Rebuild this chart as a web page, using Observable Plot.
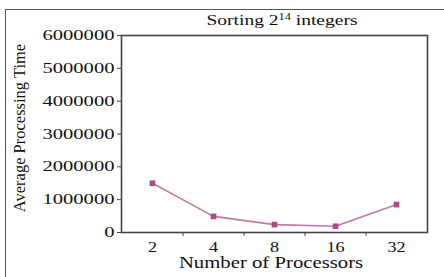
<!DOCTYPE html>
<html>
<head>
<meta charset="utf-8">
<script src="https://cdn.jsdelivr.net/npm/d3@7"></script>
<script src="https://cdn.jsdelivr.net/npm/@observablehq/plot@0.6"></script>
<style>
  html, body { margin: 0; padding: 0; background: #fff; overflow: hidden; }
  #wrap { position: relative; width: 444px; height: 277px; overflow: hidden; }
  #border { position: absolute; left: 5px; top: 9px; width: 500px; height: 400px;
            border-left: 1.5px solid #555; border-top: 1.5px solid #555; }
  #title { position: absolute; left: 0; top: 12px; width: 564px; text-align: center;
           font-family: "Liberation Serif", serif; font-size: 15px; color: #111;
           transform-origin: 282px 0; transform: scaleX(1.3); white-space: nowrap; }
  #title sup { font-size: 9.5px; vertical-align: 5px; line-height: 0; }
  #chart { position: absolute; left: 0; top: 0; }
</style>
</head>
<body>
<div id="wrap">
  <div id="border"></div>
  <div id="chart"></div>
  <div id="title">Sorting 2<sup>14</sup> integers</div>
</div>
<script>
const processors = ["2", "4", "8", "16", "32"];
const avgTime = [1500000, 490000, 240000, 190000, 850000];
const yTicks = [0, 1000000, 2000000, 3000000, 4000000, 5000000, 6000000];
const xTitle = "Number of Processors";
const yTitle = "Average Processing Time";

const data = processors.map((p, i) => ({p, t: avgTime[i]}));
const serif = "Liberation Serif, Times New Roman, serif";

const chart = Plot.plot({
  width: 444, height: 277,
  marginLeft: 121, marginRight: 17, marginTop: 35, marginBottom: 45,
  style: {fontFamily: serif, fontSize: "14.5px", color: "#111", background: "transparent", overflow: "visible"},
  x: {type: "point", domain: processors, padding: 0.5},
  y: {domain: [0, 6000000]},
  marks: [
    Plot.axisY({ticks: yTicks, tickSize: 4, tickPadding: 3, tickFormat: d => String(d), label: null, stroke: "#444", fontSize: 14.5}),
    Plot.axisX({ticks: processors, tickSize: 0, tickPadding: 9.5, label: null, fontSize: 14.5}),
    Plot.axisX({ticks: processors.slice(0, -1), tickSize: 4, dx: 30.6, tickFormat: () => "", label: null, stroke: "#444"}),
    Plot.frame({stroke: "#444", strokeWidth: 1.6}),
    Plot.line(data, {x: "p", y: "t", stroke: "#c27ba3", strokeWidth: 1.6}),
    Plot.dot(data, {x: "p", y: "t", symbol: "square", r: 3.2, fill: "#a94c83", stroke: "none"}),
    Plot.text([yTitle], {text: d => d, frameAnchor: "left", textAnchor: "middle", lineAnchor: "middle", rotate: -90, dx: -101.5, dy: -6, fontSize: 16.5, fill: "#111"}),
    Plot.text([xTitle], {text: d => d, frameAnchor: "bottom", textAnchor: "middle", lineAnchor: "middle", dx: -3.5, dy: 30, fontSize: 17, fill: "#111"})
  ]
});
document.getElementById("chart").appendChild(chart);

function stretchEl(el, s, anchor) {
  const b = el.getBBox();
  const cx = anchor === "end" ? b.x + b.width : b.x + b.width / 2;
  const t = el.getAttribute("transform") || "";
  el.setAttribute("transform", `${t} translate(${cx},0) scale(${s},1) translate(${-cx},0)`);
}
chart.querySelectorAll('g[aria-label="y-axis tick label"] text').forEach(el => stretchEl(el, 1.42, "end"));
chart.querySelectorAll('g[aria-label="x-axis tick label"] text').forEach(el => stretchEl(el, 1.25, "middle"));
chart.querySelectorAll("text").forEach(el => { if (el.textContent === xTitle) stretchEl(el, 1.22, "middle"); });
</script>
</body>
</html>
